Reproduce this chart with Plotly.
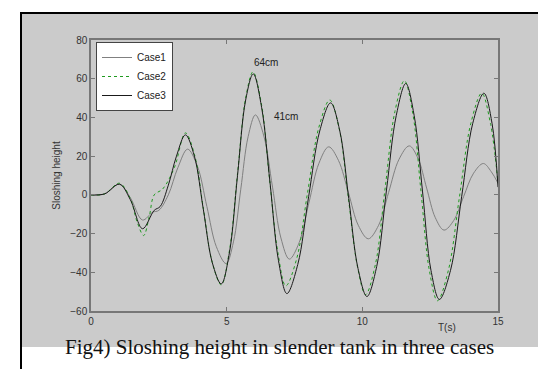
import plotly.graph_objects as go

# ---- data (time in s, height) ----
t_case1 = [0, 0.5, 1.05, 1.45, 1.9, 2.27, 2.5, 2.85, 3.2, 3.56, 3.92, 4.27, 4.62, 4.98,
           5.25, 5.52, 5.79, 6.06, 6.37, 6.69, 7.0, 7.31, 7.67, 8.03, 8.4, 8.76,
           9.12, 9.49, 9.85, 10.22, 10.6, 10.97, 11.35, 11.73, 12.05, 12.37, 12.69,
           13.01, 13.37, 13.73, 14.1, 14.46, 14.75, 15.0]
h_case1 = [0, 0.5, 5.5, -1.5, -13, -9, -8, 0, 14, 23.6, 14.9, -6, -26.8, -35.5,
           -24.3, 2.9, 30, 41.3, 30.4, 4, -22.3, -33.2, -24.7, -4.2, 16.3, 24.8,
           17.8, 1, -15.7, -22.7, -15.7, 1.3, 18.3, 25.3, 18.9, 3.5, -11.8,
           -18.2, -13.2, -1, 11.2, 16.2, 12, 6]

t_case2 = [0, 0.5, 1.05, 1.45, 1.7, 1.94, 2.15, 2.33, 2.64, 3.07, 3.48, 3.81, 4.14, 4.47, 4.8,
           5.1, 5.4, 5.7, 5.97, 6.28, 6.58, 6.89, 7.18, 7.58, 7.98, 8.4, 8.8,
           9.15, 9.48, 9.82, 10.12, 10.48, 10.84, 11.2, 11.55, 11.86, 12.16, 12.47, 12.77,
           13.17, 13.58, 14.0, 14.4, 14.72, 15.0]
h_case2 = [0, 0.5, 6, -2, -14, -21, -11, 0, 3, 14, 32, 21, -7, -35, -46.5,
           -29, 11, 50, 63.5, 47, 8, -30, -47, -33, 1, 35, 49,
           34, -1, -37, -51.5, -36, 3.5, 43, 59, 42, 2, -39, -54.7,
           -39, -1, 37, 52.5, 37, 6]

t_case3 = [0, 0.5, 1.05, 1.45, 1.9, 2.33, 2.55, 2.85, 3.15, 3.48, 3.81, 4.14, 4.47, 4.8,
           5.1, 5.4, 5.7, 5.98, 6.29, 6.6, 6.91, 7.22, 7.62, 8.02, 8.43, 8.83,
           9.17, 9.5, 9.84, 10.17, 10.53, 10.89, 11.25, 11.6, 11.91, 12.22, 12.53, 12.84,
           13.25, 13.66, 14.07, 14.48, 14.78, 15.0]
h_case3 = [0, 0.5, 5.5, -2.5, -17.5, -8, -6, 5, 20, 31, 20, -7.5, -35, -46,
           -30, 10, 49, 62.5, 45, 6, -34, -51, -36, -1, 33, 47.5,
           33, -2, -38, -52.5, -37, 2.5, 41, 57.5, 41, 1.5, -39, -54,
           -39, -1, 37, 52.5, 37, 4]

series_names = ["Case1", "Case2", "Case3"]
x_ticks = [0, 5, 10, 15]
y_ticks = [-60, -40, -20, 0, 20, 40, 60, 80]
notes = [("64cm", 6.45, 68.5), ("41cm", 7.19, 40.6)]

# ---- figure ----
W, H = 546, 369
L, R, T, B = 83, 490, 32, 303   # plot area in pixels


def px(xp):
    return (xp - L) / (R - L)


def py(yp):
    return (B - yp) / (B - T)


fig = go.Figure()
fig.add_trace(go.Scatter(x=t_case1, y=h_case1, name=series_names[0], mode="lines",
                         line=dict(color="#808080", width=1, shape="spline")))
fig.add_trace(go.Scatter(x=t_case2, y=h_case2, name=series_names[1], mode="lines",
                         line=dict(color="#1f9a1f", width=1, dash="dot", shape="spline")))
fig.add_trace(go.Scatter(x=t_case3, y=h_case3, name=series_names[2], mode="lines",
                         line=dict(color="#1a1a1a", width=1, shape="spline")))

axis_common = dict(showline=True, linecolor="#777777", linewidth=1.5, mirror="ticks",
                   ticks="inside", ticklen=4, tickcolor="#777777", showgrid=False,
                   zeroline=False, tickfont=dict(family="Liberation Sans, Arial", size=10, color="#333333"))

fig.update_xaxes(range=[0, 15], tickvals=x_ticks, **axis_common)
fig.update_yaxes(range=[-60, 80], tickvals=y_ticks,
                 title=dict(text="Sloshing height", standoff=8,
                            font=dict(family="Liberation Sans, Arial", size=10, color="#333333")),
                 **axis_common)

shapes = [
    dict(type="rect", xref="paper", yref="paper", x0=px(14), x1=px(539), y0=py(339), y1=py(6),
         fillcolor="#cbcbcb", line=dict(width=0), layer="below"),
    dict(type="rect", xref="paper", yref="paper", x0=px(13), x1=px(539), y0=py(372), y1=py(5),
         fillcolor="rgba(0,0,0,0)", line=dict(color="#000000", width=2), layer="below"),
]

annotations = [
    dict(text=txt, x=xv, y=yv, xref="x", yref="y", showarrow=False,
         font=dict(family="Liberation Sans, Arial", size=10, color="#222222"))
    for txt, xv, yv in notes
]
annotations.append(dict(text="T(s)", x=px(450), y=py(327), xref="paper", yref="paper",
                        showarrow=False, font=dict(family="Liberation Sans, Arial", size=10, color="#333333")))
annotations.append(dict(text="Fig4) Sloshing height in slender tank in three cases",
                        x=px(271), y=py(353), xref="paper", yref="paper", showarrow=False,
                        font=dict(family="Liberation Serif, Times New Roman", size=21, color="#111111")))

fig.update_layout(
    width=W, height=H,
    margin=dict(l=L, r=W - R, t=T, b=H - B),
    paper_bgcolor="#ffffff", plot_bgcolor="#ffffff",
    shapes=shapes, annotations=annotations,
    legend=dict(x=px(88), y=py(34), xanchor="left", yanchor="top",
                bgcolor="#ffffff", bordercolor="#444444", borderwidth=1,
                font=dict(family="Liberation Sans, Arial", size=10, color="#222222"),
                itemwidth=30, tracegroupgap=0),
    showlegend=True,
)

fig.write_html("out.html")
